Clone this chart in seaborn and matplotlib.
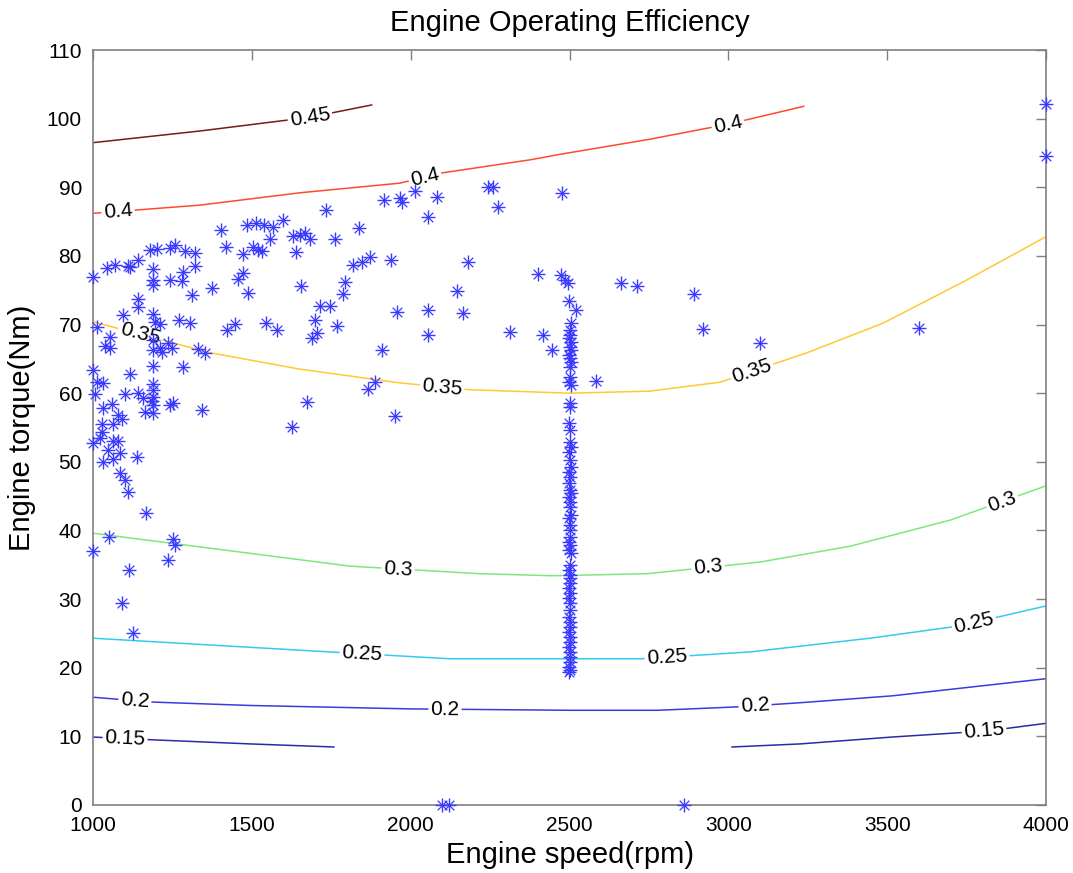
import numpy as np
import pandas as pd
import matplotlib
matplotlib.use("Agg")
import matplotlib.pyplot as plt
import seaborn as sns

# ---------------- data ----------------
# contour levels (efficiency): speed (rpm) / torque (Nm)
c045_spd = [1000, 1337, 1683, 1878]
c045_trq = [96.5, 98.2, 100.2, 102.0]

c040_spd = [1000, 1337, 1652, 1966, 2100, 2376, 2470, 2753, 3000, 3238]
c040_trq = [86.2, 87.4, 89.2, 90.6, 92.1, 94.0, 94.8, 97.0, 99.2, 101.8]

c035_spd = [1000, 1368, 1652, 1966, 2187, 2502, 2753, 2974, 3248, 3487, 3751, 4000]
c035_trq = [70.4, 65.9, 63.5, 61.5, 60.5, 60.0, 60.3, 61.6, 65.9, 70.2, 76.5, 82.8]

c030_spd = [1000, 1809, 2218, 2448, 2744, 3100, 3383, 3698, 4000]
c030_trq = [39.6, 34.8, 33.7, 33.4, 33.7, 35.4, 37.7, 41.5, 46.5]

c025_spd = [1000, 1746, 2124, 2502, 2722, 3068, 3446, 3729, 4000]
c025_trq = [24.3, 22.3, 21.3, 21.3, 21.3, 22.3, 24.3, 26.1, 29.0]

c020_spd = [1000, 1186, 1494, 2001, 2502, 2778, 3030, 3226, 3515, 4000]
c020_trq = [15.7, 15.0, 14.5, 14.0, 13.8, 13.8, 14.3, 14.9, 15.9, 18.4]

c015a_spd = [1000, 1186, 1494, 1759]
c015a_trq = [9.9, 9.5, 8.9, 8.45]
c015b_spd = [3011, 3226, 3515, 3817, 4000]
c015b_trq = [8.45, 8.9, 9.9, 10.8, 11.9]

# operating points (rpm, Nm)
left_spd = [1403, 1485, 1513, 1538, 1567, 1598, 1557, 1630, 1652, 1667, 1683, 1762,
            1419, 1472, 1504, 1519, 1532, 1639, 1180, 1201, 1242, 1258, 1290, 1321,
            1142, 1110, 1069, 1044, 1116, 1189, 1321, 1283, 1000, 1189, 1242, 1280,
            1189, 1312, 1375, 1456, 1472, 1488, 1655, 1793, 1787, 1142, 1142, 1094,
            1189, 1195, 1211, 1271, 1305, 1422, 1447, 1545, 1579, 1705, 1715, 1746,
            1699, 1768, 1689, 1013]
left_trq = [83.8, 84.5, 84.8, 84.5, 84.2, 85.2, 82.5, 82.9, 83.0, 83.3, 82.5, 82.5,
            81.3, 80.3, 81.3, 80.9, 80.7, 80.6, 80.9, 81.0, 81.2, 81.6, 80.7, 80.4,
            79.4, 78.5, 78.7, 78.2, 78.4, 78.1, 78.5, 77.7, 76.9, 76.5, 76.5, 76.3,
            75.8, 74.3, 75.3, 76.6, 77.5, 74.6, 75.6, 76.2, 74.5, 73.7, 72.6, 71.4,
            71.5, 70.4, 70.1, 70.7, 70.2, 69.2, 70.1, 70.2, 69.2, 68.8, 72.7, 72.7,
            70.7, 69.8, 68.0, 69.6]

mid_spd = [1733, 1916, 1973, 1966, 2083, 2014, 2055, 1837, 1818, 1847, 1872, 1938,
           2180, 2146, 1957, 2055, 2165, 1866, 1888, 1910, 2055, 1674, 1951, 2313,
           2417, 2445, 2401, 2243, 2259, 2275, 2476, 1626]
mid_trq = [86.7, 88.1, 87.9, 88.4, 88.6, 89.5, 85.7, 84.1, 78.7, 79.1, 79.8, 79.4,
           79.1, 74.9, 71.8, 72.1, 71.7, 60.6, 61.6, 66.3, 68.5, 58.7, 56.7, 68.9,
           68.5, 66.3, 77.4, 90.0, 90.0, 87.1, 89.2, 55.1]

low_spd = [1054, 1038, 1054, 1189, 1236, 1211, 1249, 1331, 1353, 1217, 1189, 1000,
           1013, 1031, 1116, 1189, 1283, 1189, 1189, 1189, 1142, 1101, 1157, 1006,
           1242, 1252, 1189, 1186, 1343, 1060, 1031, 1164, 1189, 1079, 1091, 1028,
           1063, 1028, 1022, 1000, 1063, 1079, 1047, 1085, 1031, 1063, 1139, 1085,
           1101, 1110, 1167, 1050, 1000, 1252, 1258, 1236, 1113, 1091, 1126]
low_trq = [68.2, 66.9, 66.6, 67.8, 67.3, 66.6, 66.6, 66.4, 65.9, 66.0, 66.3, 63.4,
           61.6, 61.5, 62.8, 64.0, 63.8, 61.3, 60.5, 59.4, 60.0, 59.9, 59.3, 59.9,
           58.3, 58.6, 58.3, 58.9, 57.6, 58.4, 57.8, 57.3, 57.1, 56.8, 56.2, 55.5,
           55.5, 54.3, 53.5, 52.7, 53.0, 53.0, 51.7, 51.3, 50.0, 50.4, 50.7, 48.4,
           47.4, 45.6, 42.5, 39.0, 37.0, 38.8, 37.9, 35.7, 34.2, 29.4, 25.1]

col_spd = [2498, 2505, 2500, 2503, 2498, 2506, 2500, 2504, 2497, 2502, 2506, 2500,
           2503, 2498, 2505, 2500, 2503, 2497, 2502, 2500, 2504, 2498, 2501, 2505,
           2499, 2503, 2497, 2501, 2505, 2499, 2502, 2500, 2504, 2498, 2502, 2500,
           2503, 2497, 2501, 2499, 2504, 2500, 2498, 2502, 2500, 2503, 2499, 2501,
           2498, 2503, 2500, 2497, 2502, 2500, 2499, 2503, 2500, 2498, 2502, 2500,
           2501, 2499, 2500, 2498]
col_trq = [73.4, 70.2, 69.2, 68.5, 68.0, 67.5, 66.8, 66.3, 65.6, 65.1, 64.5, 63.8,
           62.4, 61.6, 61.2, 58.6, 58.0, 55.7, 54.6, 52.9, 52.2, 51.4, 50.3, 49.2,
           48.5, 47.8, 46.9, 45.9, 45.5, 44.9, 44.1, 43.4, 42.3, 41.8, 40.8, 40.1,
           39.0, 38.3, 37.9, 37.2, 36.7, 35.0, 34.2, 33.5, 33.1, 32.3, 31.6, 30.9,
           30.2, 29.4, 28.4, 27.4, 26.7, 25.9, 25.2, 24.5, 23.7, 23.0, 22.3, 21.6,
           20.8, 20.1, 19.6, 19.4]

right_spd = [2662, 2712, 2892, 2920, 3100, 3600, 2583, 2520, 2473, 2486, 2495,
             4000, 4000, 2099, 2121, 2860]
right_trq = [76.1, 75.6, 74.5, 69.4, 67.3, 69.5, 61.8, 72.1, 77.2, 76.5, 76.1,
             102.1, 94.6, 0.0, 0.0, 0.0]

x_ticks = [1000, 1500, 2000, 2500, 3000, 3500, 4000]
y_ticks = [0, 10, 20, 30, 40, 50, 60, 70, 80, 90, 100, 110]

# ---------------- style ----------------
sns.set_style("white")
plt.rcParams['font.family'] = ['Liberation Sans', 'DejaVu Sans']
plt.rcParams['text.color'] = 'black'
plt.rcParams['axes.labelcolor'] = 'black'

fig = plt.figure(figsize=(10.73, 8.73), dpi=100)
ax = fig.add_axes([93/1073, 68/873, (1046-93)/1073, (805-50)/873])
ax.set_xlim(1000, 4000)
ax.set_ylim(0, 110)

contours = [
    ("0.45", c045_spd, c045_trq, "#7a1a14", [1683]),
    ("0.4", c040_spd, c040_trq, "#ff4a2e", [1079, 2045, 2999]),
    ("0.35", c035_spd, c035_trq, "#ffc933", [1148, 2099, 3074]),
    ("0.3", c030_spd, c030_trq, "#7ee87e", [1960, 2936, 3862]),
    ("0.25", c025_spd, c025_trq, "#33ccee", [1847, 2807, 3773]),
    ("0.2", c020_spd, c020_trq, "#3b3be0", [1132, 2108, 3084]),
    ("0.15", c015a_spd, c015a_trq, "#2a2aa8", [1101]),
    ("0.15", c015b_spd, c015b_trq, "#2a2aa8", [3805]),
]

for lab, xs, ys, col, lpos in contours:
    sns.lineplot(x=xs, y=ys, ax=ax, sort=False, estimator=None, color=col, lw=1.1)

# operating points
pts = pd.DataFrame({
    "speed": left_spd + mid_spd + low_spd + col_spd + right_spd,
    "torque": left_trq + mid_trq + low_trq + col_trq + right_trq,
})
sns.scatterplot(data=pts, x="speed", y="torque", ax=ax, marker="+", s=100,
                color="#3a3aff", linewidth=1.0, zorder=5, clip_on=False)
sns.scatterplot(data=pts, x="speed", y="torque", ax=ax, marker="x", s=48,
                color="#3a3aff", linewidth=0.9, zorder=5, clip_on=False)

# inline contour labels
fig.canvas.draw()
for lab, xs, ys, col, lpos in contours:
    for xl in lpos:
        yl = float(np.interp(xl, xs, ys))
        p1 = ax.transData.transform((xl - 40, np.interp(xl - 40, xs, ys)))
        p2 = ax.transData.transform((xl + 40, np.interp(xl + 40, xs, ys)))
        ang = np.degrees(np.arctan2(p2[1] - p1[1], p2[0] - p1[0]))
        ax.text(xl, yl, lab, rotation=ang, rotation_mode="anchor",
                ha="center", va="center", fontsize=15, color="black", zorder=4,
                bbox=dict(facecolor="white", edgecolor="none", pad=1.5))

ax.set_xticks(x_ticks)
ax.set_yticks(y_ticks)
ax.tick_params(direction="in", top=True, right=True, length=7, width=1,
               color="#808080", labelsize=15, labelcolor="black", pad=8)
for sp in ax.spines.values():
    sp.set_color("#808080")
    sp.set_linewidth(1.2)

ax.set_title("Engine Operating Efficiency", fontsize=21, pad=14, color="black")
ax.set_xlabel("Engine speed(rpm)", fontsize=21, labelpad=4, color="black")
ax.set_ylabel("Engine torque(Nm)", fontsize=21, labelpad=8, color="black")

fig.savefig("out.png", dpi=100)
